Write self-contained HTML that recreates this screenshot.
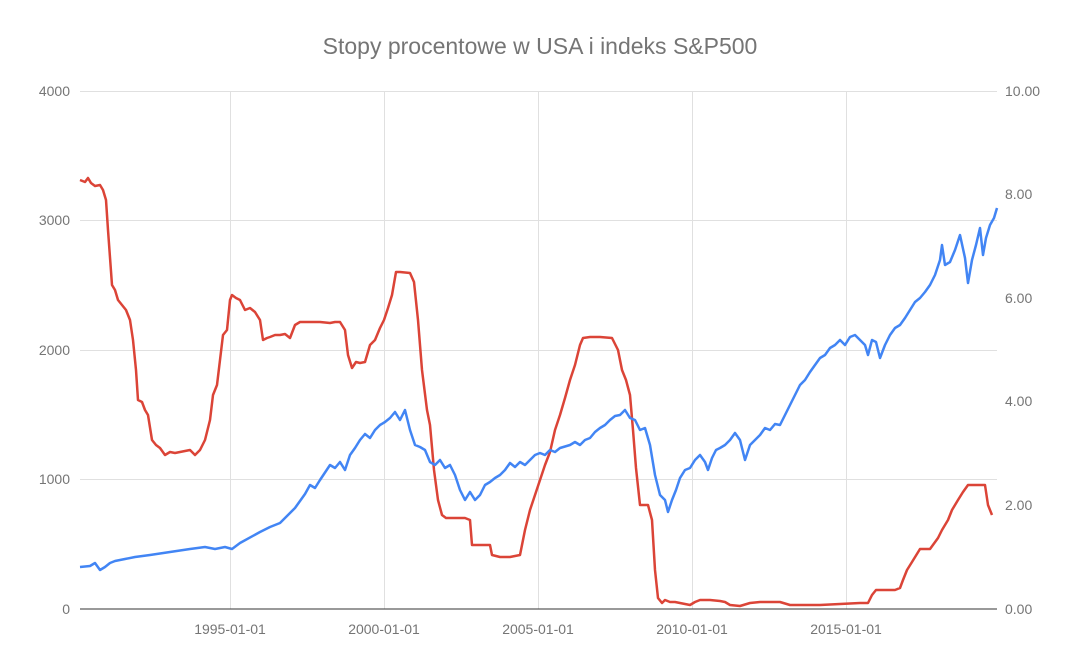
<!DOCTYPE html>
<html><head><meta charset="utf-8"><style>
html,body{margin:0;padding:0;background:#fff;}
svg{display:block;font-family:"Liberation Sans",Arial,sans-serif;}
</style></head><body>
<svg width="1080" height="668" viewBox="0 0 1080 668">
<rect width="1080" height="668" fill="#fff"/>
<text x="540" y="54" text-anchor="middle" font-size="23" fill="#757575">Stopy procentowe w USA i indeks S&amp;P500</text>
<g stroke="#e0e0e0" stroke-width="1">
<line x1="80" y1="91.5" x2="997" y2="91.5"/>
<line x1="80" y1="220.5" x2="997" y2="220.5"/>
<line x1="80" y1="350.5" x2="997" y2="350.5"/>
<line x1="80" y1="479.5" x2="997" y2="479.5"/>
<line x1="230.5" y1="91" x2="230.5" y2="609"/>
<line x1="384.5" y1="91" x2="384.5" y2="609"/>
<line x1="538.5" y1="91" x2="538.5" y2="609"/>
<line x1="692.5" y1="91" x2="692.5" y2="609"/>
<line x1="846.5" y1="91" x2="846.5" y2="609"/>
</g>
<line x1="80" y1="609" x2="997" y2="609" stroke="#333" stroke-width="1"/>
<g font-size="14" fill="#757575">
<text x="70" y="96" text-anchor="end">4000</text>
<text x="70" y="225" text-anchor="end">3000</text>
<text x="70" y="355" text-anchor="end">2000</text>
<text x="70" y="484" text-anchor="end">1000</text>
<text x="70" y="614" text-anchor="end">0</text>
<text x="1005" y="96">10.00</text>
<text x="1005" y="199">8.00</text>
<text x="1005" y="303">6.00</text>
<text x="1005" y="406">4.00</text>
<text x="1005" y="510">2.00</text>
<text x="1005" y="614">0.00</text>
<text x="230" y="634" text-anchor="middle">1995-01-01</text>
<text x="384" y="634" text-anchor="middle">2000-01-01</text>
<text x="538" y="634" text-anchor="middle">2005-01-01</text>
<text x="692" y="634" text-anchor="middle">2010-01-01</text>
<text x="846" y="634" text-anchor="middle">2015-01-01</text>
</g>
<polyline fill="none" stroke="#db4437" stroke-width="2.5" stroke-linejoin="round" points="80,180 85,182 88,178 91,183 95,186 100,185 103,190 106,200 108,230 112,285 115,290 118,300 122,305 126,310 130,320 133,340 136,370 138,400 142,402 145,410 148,415 152,440 156,445 160,448 165,455 170,452 175,453 180,452 190,450 195,455 200,450 205,440 210,420 213,395 217,385 220,360 223,335 227,330 230,300 232,295 236,298 240,300 245,310 250,308 255,312 260,320 263,340 267,338 270,337 275,335 280,335 285,334 290,338 295,325 300,322 310,322 320,322 330,323 335,322 340,322 345,330 348,355 352,368 356,362 360,363 365,362 370,345 375,340 380,328 384,320 388,308 392,295 396,272 400,272 410,273 414,282 418,320 422,370 427,410 430,425 434,470 438,500 442,515 446,518 455,518 465,518 470,520 472,545 480,545 490,545 492,555 500,557 510,557 520,555 525,530 530,510 535,495 540,480 545,465 550,452 555,430 560,415 565,398 570,380 575,365 580,345 583,338 590,337 600,337 612,338 618,350 622,370 626,380 630,395 633,430 636,468 640,505 648,505 652,520 655,570 658,598 662,603 665,600 670,602 675,602 680,603 690,605 695,602 700,600 710,600 720,601 725,602 730,605 740,606 750,603 760,602 770,602 780,602 790,605 800,605 820,605 840,604 860,603 868,603 872,595 876,590 885,590 895,590 900,588 903,580 907,570 912,562 920,549 930,549 938,538 942,530 948,520 952,510 958,500 963,492 968,485 975,485 980,485 985,485 988,505 992,515"/>
<polyline fill="none" stroke="#4285f4" stroke-width="2.5" stroke-linejoin="round" points="80,567 90,566 95,563 100,570 105,567 110,563 115,561 125,559 135,557 150,555 170,552 190,549 205,547 215,549 225,547 232,549 240,543 260,532 270,527 280,523 285,518 295,508 305,494 310,485 315,488 320,480 330,465 335,468 340,462 345,470 350,455 355,448 360,440 365,434 370,438 375,430 380,425 385,422 390,418 395,412 400,420 405,410 410,430 415,445 420,447 425,450 430,462 435,465 440,460 445,468 450,465 455,475 460,490 465,500 470,492 475,500 480,495 485,485 490,482 495,478 500,475 505,470 510,463 515,467 520,462 525,465 530,460 535,455 540,453 545,455 550,450 555,452 560,448 570,445 575,442 580,445 585,440 590,438 595,432 600,428 605,425 610,420 615,416 620,415 625,410 630,418 635,420 640,430 645,428 650,445 655,475 660,495 665,500 668,512 672,500 676,490 680,478 685,470 690,468 695,460 700,455 705,462 708,470 712,458 716,450 720,448 725,445 730,440 735,433 740,440 745,460 750,445 755,440 760,435 765,428 770,430 775,424 780,425 785,415 790,405 795,395 800,385 805,380 810,372 815,365 820,358 825,355 830,348 835,345 840,340 845,345 850,337 855,335 860,340 865,345 868,355 872,340 876,342 880,358 885,345 890,335 895,328 900,325 905,318 910,310 915,302 920,298 925,292 930,285 935,275 940,260 942,245 945,265 950,262 955,250 960,235 965,258 968,283 972,260 976,245 980,228 983,255 986,238 990,225 994,218 997,208"/>
</svg>
</body></html>
